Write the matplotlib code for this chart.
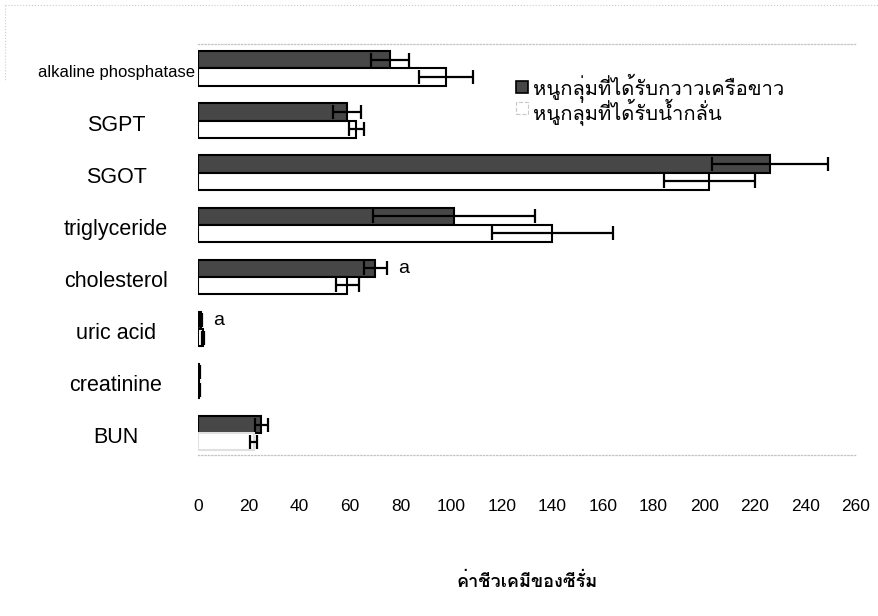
import matplotlib
matplotlib.use('Agg')
import matplotlib.pyplot as plt
import numpy as np
from matplotlib import font_manager
from matplotlib.ft2font import FT2Font
from matplotlib.patches import Rectangle
from matplotlib.lines import Line2D

categories = ['alkaline phosphatase', 'SGPT', 'SGOT', 'triglyceride',
              'cholesterol', 'uric acid', 'creatinine', 'BUN']
kwao_mean = [76, 59, 226, 101, 70, 1.2, 0.5, 25]
kwao_err = [7.5, 5.5, 23, 32, 4.5, 0.4, 0.1, 2.5]
water_mean = [98, 62.5, 202, 140, 59, 1.9, 0.5, 22]
water_err = [10.5, 3, 18, 24, 4.5, 0.3, 0.1, 1.5]
sig_marks = ['', '', '', '', 'a', 'a', '', '']
xticks = list(range(0, 261, 20))
legend_labels = ['หนูกลุ่มที่ได้รับกวาวเครือขาว', 'หนูกลุ่มที่ได้รับน้ำกลั่น']
xlabel = 'ค่าชีวเคมีของซีรั่ม'


def find_thai_family():
    # first installed font that actually has Thai glyphs
    for f in font_manager.fontManager.ttflist:
        try:
            if 0x0E01 in FT2Font(f.fname).get_charmap():
                return f.name
        except Exception:
            pass
    return None


thai = find_thai_family()
thai_family = [thai, 'DejaVu Sans'] if thai else ['DejaVu Sans']
latin = 'Liberation Sans'

W, H = 879, 616
fig = plt.figure(figsize=(W / 100, H / 100), dpi=100)
fig.patch.set_facecolor('white')
ax = fig.add_axes([198 / W, 1 - 455 / H, 658 / W, 411 / H])

y = np.arange(len(categories))
h = 0.33
dark = '#474747'

water_edges = ['black'] * (len(categories) - 1) + ['#e0e0e0']
ax.barh(y - h / 2, kwao_mean, height=h, color=dark, edgecolor='black', linewidth=1.5)
ax.barh(y + h / 2, water_mean, height=h, color='white', edgecolor=water_edges, linewidth=1.5)

ax.errorbar(kwao_mean, y - h / 2, xerr=kwao_err, fmt='none', ecolor='black',
            elinewidth=1.6, capsize=5, capthick=1.6)
ax.errorbar(water_mean, y + h / 2, xerr=water_err, fmt='none', ecolor='black',
            elinewidth=1.6, capsize=5, capthick=1.6)

# significance letters next to the treated group
for i, mark in enumerate(sig_marks):
    if mark:
        ax.text(kwao_mean[i] + kwao_err[i] + 4.5, y[i] - h / 2, mark,
                va='center', ha='left', fontsize=14, family=latin)

ax.set_xlim(0, 260)
ax.set_ylim(7.42, -0.47)
ax.set_xticks(xticks)
ax.set_xticklabels([str(t) for t in xticks], fontsize=12.5, family=latin)
ax.set_yticks(y + 0.04)
ax.set_yticklabels(categories, fontsize=15.5, family=latin)
ax.get_yticklabels()[0].set_fontsize(12)
for lab in ax.get_yticklabels():
    lab.set_horizontalalignment('center')
ax.tick_params(axis='x', length=0, pad=32)
ax.tick_params(axis='y', length=0, pad=59)

for side in ['left', 'right']:
    ax.spines[side].set_visible(False)
for side in ['top', 'bottom']:
    ax.spines[side].set_color('#c4c4c4')
    ax.spines[side].set_linestyle(':')
    ax.spines[side].set_linewidth(0.9)

# legend drawn by hand: one two-line text block so the rows sit close together
swatches = [dict(facecolor=dark, edgecolor='black', linewidth=1.2),
            dict(facecolor='white', edgecolor='#c8c8c8', linestyle='--', linewidth=0.8)]
for k, style in enumerate(swatches):
    yc = 87 + 21 * k
    fig.add_artist(Rectangle((516 / W, 1 - (yc + 6) / H), 12 / W, 12 / H,
                             transform=fig.transFigure, **style))
fig.text(533 / W, 1 - 99 / H, '\n'.join(legend_labels), ha='left', va='center',
         fontsize=14.5, family=thai_family, linespacing=0.88)

fig.text(527 / W, 1 - 582 / H, xlabel, ha='center', va='center',
         fontsize=13, weight='bold', family=thai_family)

# faint page border
fig.add_artist(Line2D([5 / W, 1], [1 - 5 / H, 1 - 5 / H], color='#cccccc',
                      linestyle=':', linewidth=0.8))
fig.add_artist(Line2D([5 / W, 5 / W], [1 - 5 / H, 1 - 80 / H], color='#cccccc',
                      linestyle=':', linewidth=0.8))

fig.savefig('out.png', dpi=100)
